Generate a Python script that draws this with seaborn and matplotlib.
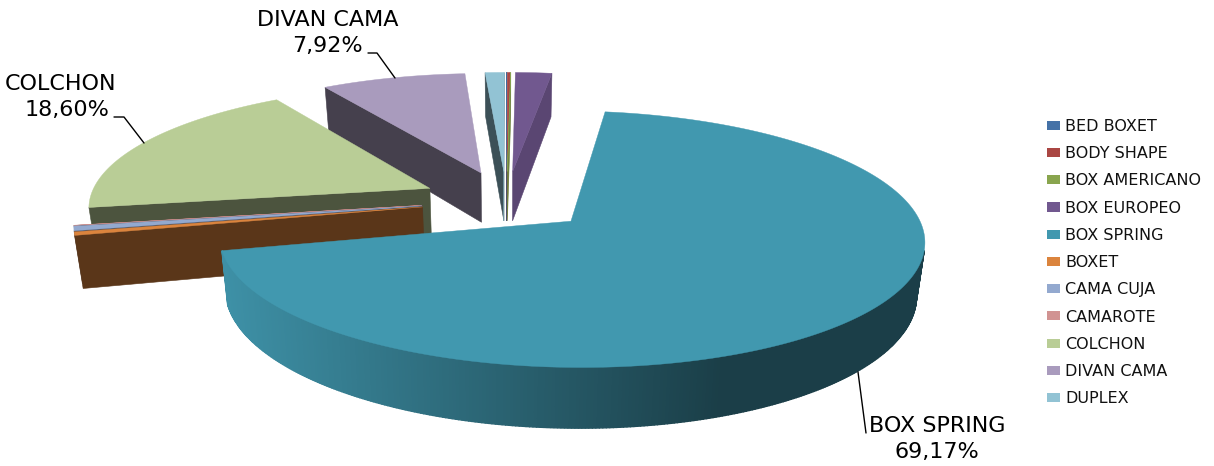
import numpy as np
import matplotlib
matplotlib.use("Agg")
import matplotlib.pyplot as plt
from matplotlib.patches import Patch
import seaborn as sns

categories = ["BED BOXET", "BODY SHAPE", "BOX AMERICANO", "BOX EUROPEO", "BOX SPRING", "BOXET",
              "CAMA CUJA", "CAMAROTE", "COLCHON", "DIVAN CAMA", "DUPLEX"]
shares = [0.02, 0.15, 0.02, 2.00, 69.17, 0.45, 0.60, 0.03, 18.60, 7.92, 1.04]
colors = ["#4572A7", "#AA4643", "#89A54E", "#71588F", "#4198AF", "#DB843D",
          "#93A9CF", "#D19392", "#B9CD96", "#A99BBD", "#92C3D4"]
labelled = {"BOX SPRING": (937, 426, 937, 452), "COLCHON": (60, 84, 67, 110), "DIVAN CAMA": (328, 20, 327, 46)}
leaders = [[(858, 372), (866, 433)],
           [(114, 117), (124, 117), (144, 143)],
           [(368, 53), (377, 53), (395, 78)]]

sns.set_theme(style="white")
plt.rcParams["font.family"] = ["DejaVu Sans"]
palette = sns.color_palette(colors)

# Projection of the tilted, exploded pie onto the figure (units: pixels)
ORIGIN_X, ORIGIN_Y = 506.5, 200.5
RADIUS_X, RADIUS_Y = 341.0, 120.0
PERSPECTIVE = 0.137
EXPLODE = 0.25
BOTTOM_SCALE = 0.98
WALL_DEPTH = 51.0


def project(x, y):
    w = 1.0 / (1.0 + PERSPECTIVE * y)
    return ORIGIN_X + x * RADIUS_X * w, ORIGIN_Y - y * RADIUS_Y * w


def extrude(x, y):
    sx, sy = project(x, y)
    w = 1.0 / (1.0 + PERSPECTIVE * y)
    return ORIGIN_X + (sx - ORIGIN_X) * BOTTOM_SCALE, sy + WALL_DEPTH * w


def shaded(color, factor):
    return tuple(np.clip(np.array(color) * factor, 0, 1))


def rim_factor(screen_x, theta):
    # The lit side of the wall is on the left, fading to shadow past the front
    if theta >= 258:
        return 0.41
    return 0.41 + 0.54 * np.clip((722 - screen_x) / 500.0, 0, 1)


def signed_area(pts):
    p = np.asarray(pts)
    x, y = p[:, 0], p[:, 1]
    return 0.5 * np.sum(x * np.roll(y, -1) - np.roll(x, -1) * y)


def draw_face(ax, pts, color, z, lw=0.4):
    # Side faces wound this way round on screen are the ones turned towards the viewer
    if signed_area(pts) > 0:
        xs, ys = zip(*pts)
        ax.fill(xs, ys, color=color, lw=lw, zorder=z)


fig = plt.figure(figsize=(12.14, 4.66), dpi=100)
ax = fig.add_axes([0, 0, 1, 1])
ax.set_xlim(0, 1214)
ax.set_ylim(466, 0)
ax.axis("off")

edges = np.cumsum([0.0] + shares) / np.sum(shares) * 360.0
mids = (edges[:-1] + edges[1:]) / 2.0

# Far slices first so that nearer ones paint over them
order = sorted(range(len(shares)), key=lambda i: -np.cos(np.radians(mids[i])))
for rank, i in enumerate(order):
    base = palette[i]
    t0, t1 = edges[i], edges[i + 1]
    ox = EXPLODE * np.sin(np.radians(mids[i]))
    oy = EXPLODE * np.cos(np.radians(mids[i]))
    n = max(3, int((t1 - t0) * 2))
    thetas = np.linspace(t0, t1, n)
    rx = ox + np.sin(np.radians(thetas))
    ry = oy + np.cos(np.radians(thetas))
    z = 2 + rank * 3

    apex_top, apex_bot = project(ox, oy), extrude(ox, oy)
    # Cut faces along the two straight edges
    draw_face(ax, [apex_top, apex_bot, extrude(rx[0], ry[0]), project(rx[0], ry[0])], shaded(base, 0.41), z)
    draw_face(ax, [project(rx[-1], ry[-1]), extrude(rx[-1], ry[-1]), apex_bot, apex_top], shaded(base, 0.80), z)
    # Outer wall, shaded strip by strip
    for j in range(n - 1):
        a, b = project(rx[j], ry[j]), project(rx[j + 1], ry[j + 1])
        quad = [a, extrude(rx[j], ry[j]), extrude(rx[j + 1], ry[j + 1]), b]
        factor = rim_factor((a[0] + b[0]) / 2, (thetas[j] + thetas[j + 1]) / 2)
        draw_face(ax, quad, shaded(base, factor), z + 1, lw=1.0)
    # Top surface
    tx, ty = project(rx, ry)
    ax.fill(np.r_[apex_top[0], tx], np.r_[apex_top[1], ty], color=base, lw=0.3, zorder=z + 2)

for line in leaders:
    xs, ys = zip(*line)
    ax.plot(xs, ys, color="black", lw=1.0, zorder=100)

for name, (x_name, y_name, x_value, y_value) in labelled.items():
    value = shares[categories.index(name)]
    ax.text(x_name, y_name, name, ha="center", va="center", fontsize=16, color="black", zorder=101)
    ax.text(x_value, y_value, f"{value:.2f}%".replace(".", ","), ha="center", va="center", fontsize=16, color="black", zorder=101)

handles = [Patch(facecolor=c, edgecolor="none", label=n) for c, n in zip(palette, categories)]
fig.legend(handles=handles, loc="upper left", bbox_to_anchor=(1047 / 1214, 1 - 119 / 466), frameon=False,
           fontsize=11.5, borderpad=0, borderaxespad=0, handlelength=0.81, handleheight=0.5, handletextpad=0.31,
           labelspacing=0.765, labelcolor="#111111")

fig.savefig("out.png", dpi=100, facecolor="white")
